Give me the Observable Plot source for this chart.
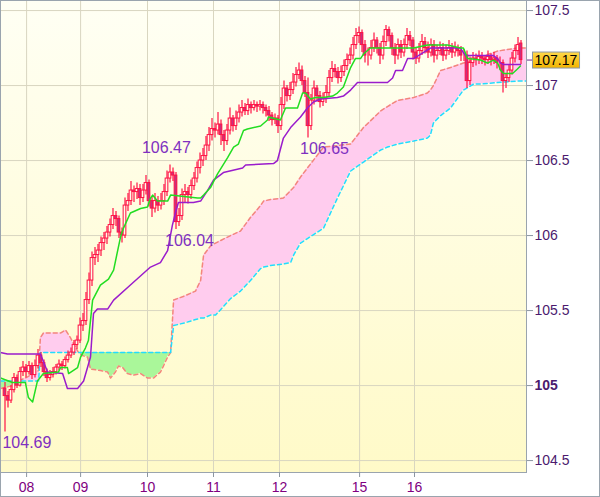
<!DOCTYPE html>
<html><head><meta charset="utf-8">
<script src="https://cdn.jsdelivr.net/npm/d3@7"></script>
<script src="https://cdn.jsdelivr.net/npm/@observablehq/plot@0.6"></script>
<style>
html,body{margin:0;padding:0;background:#fff;}
#chart svg{display:block;outline:1px solid #9aa4ae;outline-offset:-1px;}
</style></head><body><div id="chart"></div>
<script>
// ---- candle data (index = candle number) ----
const open = [
104.98,104.93,104.90,104.97,105.05,105.00,105.09,105.12,105.09,105.13,
105.07,105.13,105.20,105.15,105.09,105.05,105.07,105.09,105.12,105.14,
105.13,105.17,105.20,105.22,105.27,105.30,105.40,105.43,105.57,105.70,
105.85,105.87,105.90,105.95,105.98,106.02,106.07,106.13,106.11,106.02,
106.00,106.20,106.23,106.30,106.29,106.31,106.25,106.30,106.35,106.23,
106.18,106.23,106.20,106.23,106.29,106.38,106.42,106.40,106.09,106.13,
106.27,106.29,106.27,106.33,106.38,106.45,106.50,106.53,106.60,106.67,
106.71,106.70,106.74,106.67,106.63,106.70,106.78,106.73,106.78,106.82,
106.85,106.83,106.87,106.85,106.87,106.86,106.87,106.85,106.83,106.80,
106.77,106.78,106.73,106.87,106.98,106.93,106.97,107.02,107.07,107.10,
107.03,106.95,106.73,106.90,106.98,106.93,106.89,106.91,106.95,107.05,
107.11,107.09,107.05,107.09,107.13,107.17,107.20,107.27,107.33,107.35,
107.27,107.20,107.20,107.25,107.30,107.25,107.20,107.29,107.37,107.33,
107.25,107.20,107.27,107.22,107.27,107.33,107.30,107.22,107.18,107.23,
107.29,107.25,107.22,107.27,107.20,107.23,107.25,107.20,107.23,107.25,
107.22,107.25,107.23,107.20,107.20,107.03,107.15,107.18,107.17,107.19,
107.18,107.17,107.19,107.17,107.18,107.15,107.15,107.03,107.05,107.10,
107.18,107.23,107.28];
const high = [
105.02,104.96,105.00,105.08,105.07,105.12,105.16,105.14,105.16,105.15,
105.17,105.24,105.22,105.17,105.11,105.10,105.12,105.14,105.17,105.16,
105.19,105.23,105.25,105.30,105.33,105.45,105.48,105.62,105.75,105.89,
105.92,105.94,105.99,106.02,106.06,106.11,106.18,106.16,106.13,106.05,
106.25,106.28,106.36,106.33,106.35,106.34,106.34,106.40,106.37,106.26,
106.28,106.26,106.28,106.34,106.43,106.47,106.45,106.42,106.18,106.31,
106.34,106.32,106.37,106.42,106.49,106.55,106.58,106.66,106.72,106.78,
106.75,106.82,106.77,106.70,106.74,106.85,106.80,106.83,106.87,106.90,
106.88,106.91,106.89,106.90,106.89,106.90,106.89,106.87,106.86,106.82,
106.81,106.80,106.92,107.03,107.00,107.02,107.08,107.12,107.15,107.13,
107.06,107.05,106.94,107.03,107.00,106.96,106.95,107.00,107.10,107.16,
107.14,107.12,107.13,107.17,107.21,107.25,107.32,107.38,107.39,107.37,
107.30,107.25,107.30,107.35,107.32,107.28,107.33,107.40,107.39,107.35,
107.28,107.31,107.30,107.31,107.38,107.36,107.32,107.25,107.28,107.34,
107.32,107.29,107.31,107.30,107.27,107.29,107.28,107.27,107.30,107.28,
107.29,107.27,107.26,107.24,107.23,107.19,107.22,107.21,107.23,107.22,
107.20,107.23,107.21,107.22,107.20,107.19,107.17,107.08,107.14,107.22,
107.27,107.32,107.30];
const low = [
104.69,104.85,104.88,104.95,104.98,104.99,105.06,105.05,105.07,105.04,
105.05,105.11,105.12,105.06,105.02,105.03,105.05,105.07,105.10,105.10,
105.11,105.15,105.18,105.20,105.24,105.28,105.36,105.40,105.54,105.66,
105.80,105.82,105.86,105.90,105.94,105.99,106.04,106.06,105.98,105.95,
105.98,106.16,106.20,106.22,106.24,106.20,106.22,106.27,106.19,106.12,
106.15,106.16,106.17,106.20,106.26,106.35,106.36,106.04,106.06,106.10,
106.22,106.21,106.24,106.30,106.35,106.41,106.46,106.50,106.56,106.63,
106.65,106.67,106.60,106.56,106.60,106.67,106.69,106.70,106.75,106.79,
106.80,106.80,106.81,106.83,106.82,106.83,106.81,106.79,106.76,106.73,
106.74,106.68,106.70,106.84,106.89,106.90,106.94,106.99,107.04,107.00,
106.92,106.65,106.70,106.87,106.89,106.85,106.86,106.88,106.92,107.02,
107.05,107.01,107.02,107.06,107.10,107.14,107.17,107.24,107.28,107.22,
107.15,107.13,107.17,107.22,107.21,107.14,107.17,107.26,107.29,107.20,
107.14,107.17,107.18,107.19,107.24,107.26,107.17,107.14,107.15,107.20,
107.21,107.18,107.19,107.15,107.17,107.20,107.16,107.17,107.20,107.18,
107.19,107.19,107.16,107.16,106.98,107.00,107.12,107.13,107.14,107.14,
107.13,107.14,107.13,107.14,107.11,107.10,106.95,106.98,107.02,107.07,
107.15,107.20,107.14];
const close = [
104.93,104.90,104.97,105.05,105.00,105.09,105.12,105.09,105.13,105.07,
105.13,105.20,105.15,105.09,105.05,105.07,105.09,105.12,105.14,105.13,
105.17,105.20,105.22,105.27,105.30,105.40,105.43,105.57,105.70,105.85,
105.87,105.90,105.95,105.98,106.02,106.07,106.13,106.11,106.02,106.00,
106.20,106.23,106.30,106.29,106.31,106.25,106.30,106.35,106.23,106.18,
106.23,106.20,106.23,106.29,106.38,106.42,106.40,106.09,106.13,106.27,
106.29,106.27,106.33,106.38,106.45,106.50,106.53,106.60,106.67,106.71,
106.70,106.74,106.67,106.63,106.70,106.78,106.73,106.78,106.82,106.85,
106.83,106.87,106.85,106.87,106.86,106.87,106.85,106.83,106.80,106.77,
106.78,106.73,106.87,106.98,106.93,106.97,107.02,107.07,107.10,107.03,
106.95,106.73,106.90,106.98,106.93,106.89,106.91,106.95,107.05,107.11,
107.09,107.05,107.09,107.13,107.17,107.20,107.27,107.33,107.35,107.27,
107.20,107.20,107.25,107.30,107.25,107.20,107.29,107.37,107.33,107.25,
107.20,107.27,107.22,107.27,107.33,107.30,107.22,107.18,107.23,107.29,
107.25,107.22,107.27,107.20,107.23,107.25,107.20,107.23,107.25,107.22,
107.25,107.23,107.20,107.20,107.03,107.15,107.18,107.17,107.19,107.18,
107.17,107.19,107.17,107.18,107.15,107.15,107.03,107.05,107.10,107.18,
107.23,107.27,107.17];

// ---- Ichimoku lines (vertices, x = candle index) ----
const tenkanIdx = [-1.5,2.5,6.8,7.8,9.2,10.8,12.8,17.8,18.5,20.8,21.2,24.2,25.2,26.8,27.8,29.2,31.8,34.5,36.2,38.5,39.5,41.8,45.2,47.5,48.5,49.2,50.8,54.2,55.2,64.2,65.2,66.2,68.5,70.8,74.2,76.2,77.8,79.5,80.8,85.2,87.5,87.8,91.8,93.5,97.5,99.2,100.2,101.8,103.5,106.2,109.2,110.8,112.8,115.2,116.8,118.5,119.5,121.8,135.2,136.2,140.8,142.8,147.5,151.8,152.8,154.2,158.5,160.8,162.8,164.2,165.2,166.2,169.2,170.8,171.8];
const tenkanVal = [105.05,105.02,105.02,104.92,104.89,105.03,105.08,105.09,105.12,105.12,105.08,105.12,105.19,105.25,105.30,105.57,105.67,105.71,105.77,105.99,106.05,106.15,106.18,106.19,106.25,106.27,106.23,106.23,106.27,106.25,106.25,106.27,106.32,106.41,106.52,106.59,106.61,106.70,106.71,106.73,106.77,106.79,106.77,106.85,106.85,106.95,106.95,106.91,106.92,106.92,106.93,106.95,106.99,107.12,107.18,107.18,107.21,107.25,107.25,107.25,107.27,107.27,107.27,107.25,107.25,107.18,107.17,107.15,107.17,107.15,107.10,107.08,107.08,107.11,107.13];
const kijunIdx = [-1.5,0.8,11.8,14.2,19.2,20.8,24.2,26.2,27.5,28.5,29.5,30.8,34.2,36.2,41.8,48.5,51.8,54.2,55.8,56.8,57.8,62.8,65.2,67.5,69.5,72.8,79.2,80.2,89.5,90.8,92.8,95.2,98.5,100.8,102.8,105.2,110.8,112.8,115.2,117.5,127.5,129.2,130.2,132.5,134.2,136.2,137.8,140.2,141.8,151.8,152.8,153.5,162.8,164.2,165.2,166.2,171.8];
const kijunVal = [105.22,105.21,105.21,105.09,105.08,104.98,104.98,105.03,105.12,105.19,105.48,105.51,105.51,105.57,105.67,105.79,105.82,105.90,106.07,106.15,106.22,106.22,106.23,106.30,106.37,106.42,106.45,106.47,106.48,106.50,106.65,106.72,106.79,106.85,106.89,106.91,106.92,106.93,106.97,107.02,107.02,107.05,107.10,107.10,107.18,107.18,107.20,107.23,107.25,107.25,107.22,107.20,107.20,107.18,107.15,107.14,107.14];

// ---- cloud (span A = salmon, span B = cyan) ----
const kumoIdx = [-1.5,2.5,4.2,6.8,10.2,11.2,11.8,12.8,18.5,20.2,21.8,22.8,24.5,25.8,27.5,28.5,31.8,34.2,35.2,36.8,37.8,39.2,40.8,42.8,45.2,47.5,49.5,51.8,52.8,54.2,55.2,56.2,60.2,63.5,65.2,66.2,68.5,70.2,75.2,78.5,81.8,85.2,86.2,88.5,92.8,95.2,96.2,98.5,100.8,106.2,110.8,115.2,119.5,125.2,127.5,130.8,136.2,140.8,141.8,142.8,145.2,148.5,152.8,156.2,158.5,164.2,170.8,173.8];
const spanA = [104.98,105.00,105.03,105.05,105.09,105.10,105.32,105.35,105.35,105.37,105.32,105.28,105.22,105.20,105.19,105.11,105.10,105.09,105.05,105.09,105.13,105.12,105.08,105.07,105.08,105.05,105.05,105.09,105.13,105.19,105.22,105.57,105.60,105.63,105.70,105.87,105.93,105.95,106.00,106.03,106.12,106.20,106.23,106.24,106.25,106.30,106.32,106.39,106.45,106.59,106.60,106.61,106.72,106.83,106.86,106.90,106.92,106.95,106.97,107.00,107.10,107.12,107.15,107.17,107.19,107.23,107.25,107.25];
const spanB = [105.03,105.03,105.03,105.03,105.03,105.03,
105.22,105.22,105.22,105.22,105.22,105.22,105.22,105.22,105.22,105.22,105.22,105.22,105.22,105.22,105.22,105.22,105.22,105.22,105.22,105.22,105.22,105.22,105.22,105.22,105.22,
105.40,105.42,105.44,105.45,105.45,105.47,105.47,105.58,105.63,105.70,105.78,105.79,105.80,105.81,105.82,105.87,105.95,105.98,106.05,106.25,106.43,106.49,106.57,106.59,106.61,106.63,106.65,106.67,106.75,106.80,106.85,106.97,107.01,107.01,107.02,107.03,107.03];

// ---- annotations and axes ----
const markIdx = [7.3, 53.8, 61.5, 106.5];
const markVal = [104.69, 106.47, 106.04, 106.65];
const markSide = ["low", "high", "low", "low"];
const lastPrice = 107.17;
const tickIdx = [7.2, 25.2, 47.5, 69.5, 91.5, 118.2, 136.5];
const tickLabels = ["08", "09", "10", "11", "12", "15", "16"];
const yTicks = [104.5, 105, 105.5, 106, 106.5, 107, 107.5];

const candles = close.map((c, i) => ({i, o: open[i], h: high[i], l: low[i], c}));
const tenkan = tenkanIdx.map((x, k) => ({x, v: tenkanVal[k]}));
const kijun = kijunIdx.map((x, k) => ({x, v: kijunVal[k]}));
const kumo = kumoIdx.map((x, k) => ({x, a: spanA[k], b: spanB[k]}));
const marks = markIdx.map((x, k) => ({x, v: markVal[k], side: markSide[k]}));

const RED = "#ff1144";
const font = "'Liberation Sans', Arial, sans-serif";

const svg = Plot.plot({
  width: 600, height: 497,
  marginLeft: 0, marginTop: 0, marginRight: 74, marginBottom: 25,
  style: {fontFamily: font, fontSize: "14px", background: "#fff"},
  x: {type: "linear", domain: [-1.5, 173.83], axis: null},
  y: {domain: [104.4205, 107.567], axis: null},
  marks: [
    Plot.frame({fill: "url(#bgGrad)"}),
    Plot.gridY(yTicks, {stroke: "#d9d6c0", strokeOpacity: 1}),
    Plot.gridX(tickIdx, {stroke: "#d9d6c0", strokeOpacity: 1}),
    Plot.areaY(kumo, {x: "x", y1: d => d.a >= d.b ? d.a : NaN, y2: d => d.a >= d.b ? d.b : NaN, fill: "#ffccee", curve: "linear"}),
    Plot.areaY(kumo, {x: "x", y1: d => d.b >= d.a ? d.a : NaN, y2: d => d.b >= d.a ? d.b : NaN, fill: "#aaf79a", curve: "linear"}),
    Plot.line(kumo, {x: "x", y: "a", stroke: "#f3877c", strokeWidth: 1.5, strokeDasharray: "4,3"}),
    Plot.line(kumo, {x: "x", y: "b", stroke: "#22dcff", strokeWidth: 1.5, strokeDasharray: "4,3"}),
    Plot.ruleX(candles, {x: "i", y1: "l", y2: "h", stroke: RED, strokeWidth: 1.2}),
    Plot.rect(candles, {x1: d => d.i - 0.45, x2: d => d.i + 0.45, y1: "o", y2: "c",
      fill: d => d.c < d.o ? "#c8307e" : "#fffdea", stroke: RED, strokeWidth: 1, inset: 0}),
    Plot.line(kijun, {x: "x", y: "v", stroke: "#9a1ccc", strokeWidth: 1.5}),
    Plot.line(tenkan, {x: "x", y: "v", stroke: "#22dd22", strokeWidth: 1.5}),
    Plot.text(marks.filter(d => d.side === "low"), {x: "x", y: "v", text: d => d.v.toFixed(2), dy: 11, fill: "#8030c0", fontSize: 16}),
    Plot.text(marks.filter(d => d.side === "high"), {x: "x", y: "v", text: d => d.v.toFixed(2), dy: -17, fill: "#8030c0", fontSize: 16}),
    Plot.frame({stroke: "#9aa4ae"}),
    Plot.axisY(yTicks.filter(v => v !== 105), {anchor: "right", tickSize: 6, tickPadding: 2, stroke: "#8c96a0", fill: "#4b1a6e", fontSize: 14, tickFormat: d => String(d)}),
    Plot.axisY([105], {anchor: "right", tickSize: 6, tickPadding: 2, stroke: "#8c96a0", fill: "#4b1a6e", fontSize: 14, fontWeight: "bold", tickFormat: d => String(d)}),
    Plot.axisY([lastPrice], {anchor: "right", tickSize: 5, tickPadding: 2, stroke: "#6a2a8a", tickFormat: () => ""}),
    Plot.axisX(tickIdx, {anchor: "bottom", tickSize: 5, tickPadding: 5, stroke: "#8c96a0", fill: "#800080", fontSize: 14,
      tickFormat: d => tickLabels[tickIdx.indexOf(d)]}),
    Plot.text([lastPrice], {y: d => d, text: d => d.toFixed(2), frameAnchor: "right", textAnchor: "start", dx: 8, fill: "#000", fontSize: 14})
  ]
});
document.getElementById("chart").appendChild(svg);

const root = d3.select(svg);
const defs = root.insert("defs", ":first-child");
const bg = defs.append("linearGradient").attr("id", "bgGrad").attr("x1", 0).attr("y1", 0).attr("x2", 0).attr("y2", 1);
bg.append("stop").attr("offset", "0%").attr("stop-color", "#fffff4");
bg.append("stop").attr("offset", "100%").attr("stop-color", "#fffac8");
const tg = defs.append("linearGradient").attr("id", "tagGrad").attr("x1", 0).attr("y1", 0).attr("x2", 0).attr("y2", 1);
tg.append("stop").attr("offset", "0%").attr("stop-color", "#ffd84a");
tg.append("stop").attr("offset", "100%").attr("stop-color", "#f2b400");

root.selectAll("text").filter(function () { return this.textContent === lastPrice.toFixed(2); }).each(function () {
  const b = this.getBBox();
  const r = d3.select(this.parentNode).insert("rect", () => this)
    .attr("x", b.x - 2).attr("y", b.y + 0.5).attr("width", b.width + 4).attr("height", b.height)
    .attr("fill", "url(#tagGrad)").attr("stroke", "#8c99a6");
  const tf = this.getAttribute("transform");
  if (tf) r.attr("transform", tf);
  const tx = this.getAttribute("x"), ty = this.getAttribute("y");
  if (tx !== null || ty !== null) r.attr("x", b.x - 2).attr("y", b.y + 0.5);
});
</script></body></html>
